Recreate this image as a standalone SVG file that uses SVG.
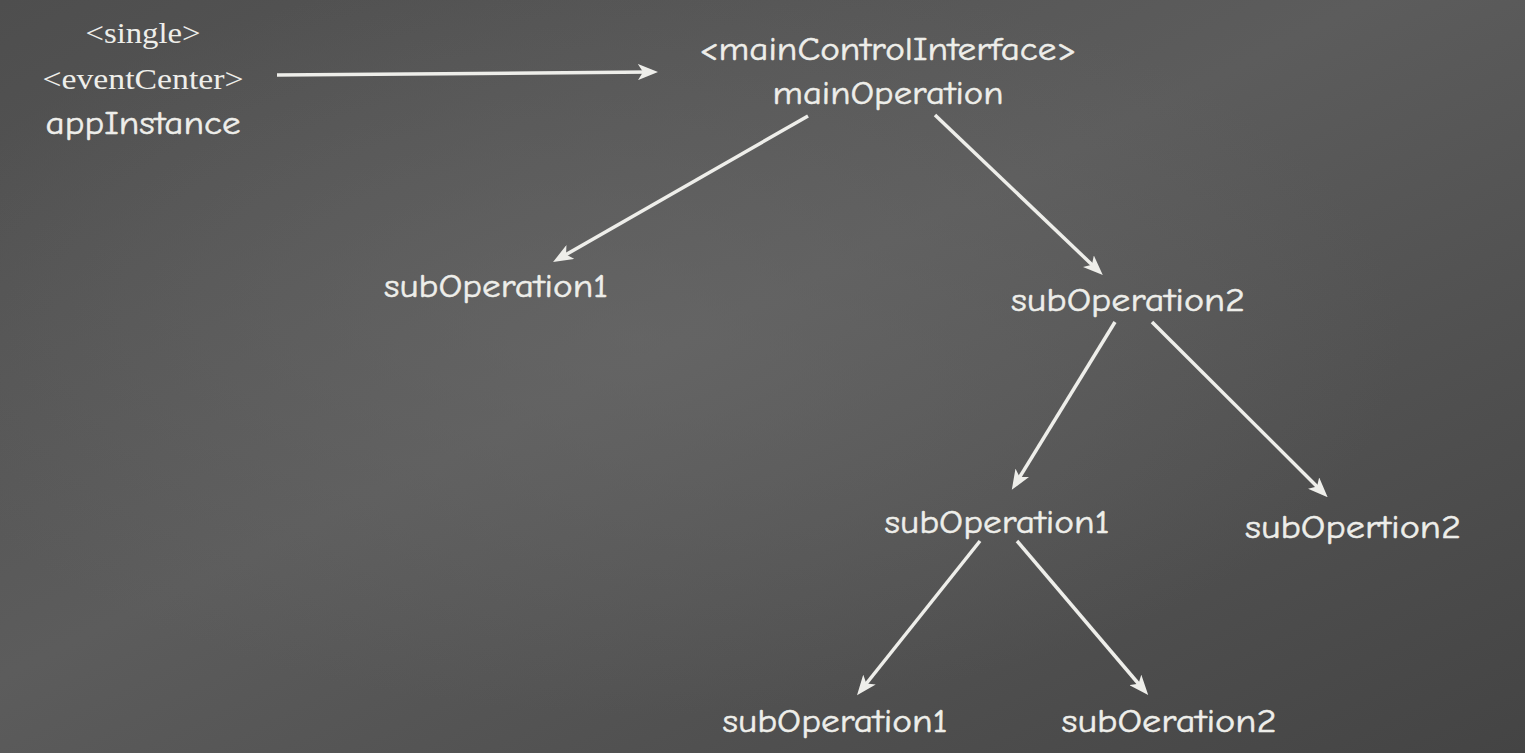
<svg xmlns="http://www.w3.org/2000/svg" width="1525" height="753" viewBox="0 0 1525 753">
<defs>
<linearGradient id="bg" x1="0" y1="0" x2="1" y2="1">
<stop offset="0" stop-color="#4e4e4e"/>
<stop offset="0.45" stop-color="#5c5c5c"/>
<stop offset="1" stop-color="#444444"/>
</linearGradient>
<radialGradient id="glow" cx="0.42" cy="0.45" r="0.5">
<stop offset="0" stop-color="#6a6a6a" stop-opacity="0.6"/>
<stop offset="1" stop-color="#6a6a6a" stop-opacity="0"/>
</radialGradient>
<marker id="ah" viewBox="0 0 20 16" refX="12" refY="8" markerWidth="20" markerHeight="16" markerUnits="userSpaceOnUse" orient="auto">
<path d="M0,0 L20,8 L0,16 L5,8 Z" fill="#eeeeea"/>
</marker>
</defs>
<style>
.lbl{font-family:"Comic Neue","Comic Sans MS","DejaVu Sans",sans-serif;fill:#eeeeea;stroke:#eeeeea;stroke-width:0.5;text-anchor:middle;font-size:33px}
.ser{font-family:"Liberation Serif",serif;fill:#eeeeea;text-anchor:middle;font-size:29px}
.edge{stroke:#eeeeea;stroke-width:3.5;fill:none;marker-end:url(#ah)}
</style>
<rect width="1525" height="753" fill="url(#bg)"/>
<rect width="1525" height="753" fill="url(#glow)"/>
<g id="connectors">
<line class="edge" x1="277" y1="75" x2="650" y2="72"/>
<line class="edge" x1="808" y1="116" x2="560" y2="258"/>
<line class="edge" x1="935" y1="115" x2="1097" y2="269.5"/>
<line class="edge" x1="1115" y1="322" x2="1016" y2="483"/>
<line class="edge" x1="1152" y1="322" x2="1322" y2="491.5"/>
<line class="edge" x1="980" y1="541" x2="862" y2="689"/>
<line class="edge" x1="1017" y1="541" x2="1143" y2="689"/>
</g>
<g id="appInstance">
<text class="ser" x="143" y="43" textLength="115" lengthAdjust="spacingAndGlyphs">&lt;single&gt;</text>
<text class="ser" x="143" y="89" textLength="201" lengthAdjust="spacingAndGlyphs">&lt;eventCenter&gt;</text>
<text class="lbl" x="143" y="134" font-size="30" textLength="195" lengthAdjust="spacingAndGlyphs">appInstance</text>
</g>
<g id="mainOperation">
<text class="lbl" x="888" y="60" font-size="30" textLength="377" lengthAdjust="spacingAndGlyphs">&lt;mainControlInterface&gt;</text>
<text class="lbl" x="888" y="104" font-size="31" textLength="231" lengthAdjust="spacingAndGlyphs">mainOperation</text>
</g>
<g id="subOperation1_a"><text class="lbl" x="496" y="297" textLength="224" lengthAdjust="spacingAndGlyphs">subOperation1</text></g>
<g id="subOperation2_a"><text class="lbl" x="1128" y="311" textLength="234" lengthAdjust="spacingAndGlyphs">subOperation2</text></g>
<g id="subOperation1_b"><text class="lbl" x="997" y="533" textLength="225" lengthAdjust="spacingAndGlyphs">subOperation1</text></g>
<g id="subOpertion2"><text class="lbl" x="1353" y="538" textLength="216" lengthAdjust="spacingAndGlyphs">subOpertion2</text></g>
<g id="subOperation1_c"><text class="lbl" x="835" y="732" textLength="225" lengthAdjust="spacingAndGlyphs">subOperation1</text></g>
<g id="subOeration2"><text class="lbl" x="1169" y="732" textLength="215" lengthAdjust="spacingAndGlyphs">subOeration2</text></g>
</svg>
